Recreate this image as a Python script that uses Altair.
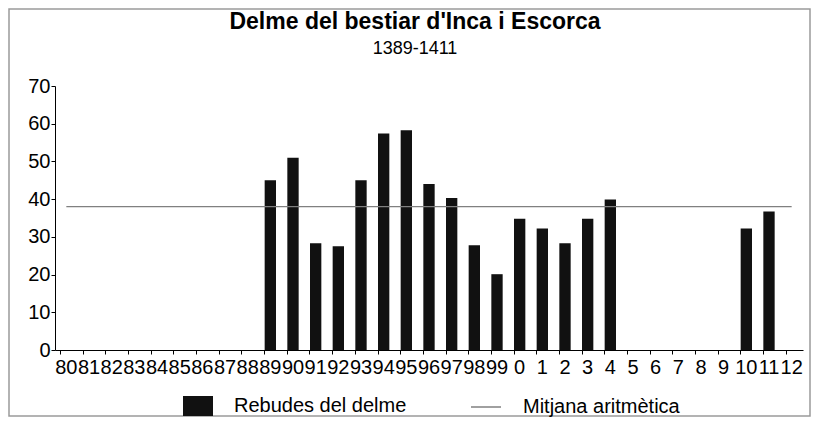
import altair as alt
import pandas as pd

YEARS = [str(y) for y in range(80, 100)] + [str(y) for y in range(0, 13)]
VALUES = ([None] * 9
          + [45, 51, 28.3, 27.5, 45, 57.4, 58.3, 44, 40.3, 27.8, 20.1,
             34.8, 32.2, 28.3, 34.8, 39.9]
          + [None] * 5
          + [32.2, 36.7, None])
MEAN = 38.0
BAR_SERIES = "Rebudes del delme"
MEAN_SERIES = "Mitjana aritmètica"
BAR_COLOR = "#111111"
MEAN_COLOR = "#808080"

FONT = "Liberation Sans"

bars_df = pd.DataFrame({"year": YEARS, "value": VALUES, "serie": BAR_SERIES})
mean_df = pd.DataFrame({"year": YEARS, "value": [MEAN] * len(YEARS), "serie": MEAN_SERIES})
frame_df = pd.DataFrame({"k": [0]})

x_enc = alt.X(
    "year:N", sort=YEARS,
    scale=alt.Scale(paddingInner=0.5, paddingOuter=0.25),
    axis=alt.Axis(title=None, labelAngle=0, bandPosition=0, labelOverlap=False,
                  labelPadding=3, tickSize=4, labelFont=FONT, labelFontSize=20,
                  labelColor="black", domainColor="black", tickColor="black"),
)
y_enc = alt.Y(
    "value:Q",
    scale=alt.Scale(domain=[0, 70], nice=False),
    axis=alt.Axis(title=None, values=[0, 10, 20, 30, 40, 50, 60, 70],
                  labelPadding=1, tickSize=4, grid=False, labelFont=FONT,
                  labelFontSize=20, labelColor="black", domainColor="black",
                  tickColor="black"),
)

legend_common = dict(
    title=None, orient="none", direction="horizontal", padding=0,
    symbolSize=900, labelOffset=21, labelLimit=400,
    labelFont=FONT, labelFontSize=20, labelColor="black", symbolOpacity=1,
)

color_enc = alt.Color(
    "serie:N",
    scale=alt.Scale(domain=[BAR_SERIES], range=[BAR_COLOR]),
    legend=alt.Legend(legendX=128, legendY=305,
                      symbolType="M-1,-0.667H1V0.667H-1Z",
                      symbolStrokeWidth=0, **legend_common),
)
stroke_enc = alt.Stroke(
    "serie:N",
    scale=alt.Scale(domain=[MEAN_SERIES], range=[MEAN_COLOR]),
    legend=alt.Legend(legendX=415, legendY=305,
                      symbolType="M-1,0H1", symbolStrokeWidth=1.5,
                      **legend_common),
)

frame = alt.Chart(frame_df).mark_rect(fill="transparent", stroke="#9a9a9a",
                                      strokeWidth=1.5, clip=False).encode(
    x=alt.value(-46), x2=alt.value(755), y=alt.value(-77), y2=alt.value(330)
)

bars = alt.Chart(bars_df).mark_bar().encode(x=x_enc, y=y_enc, color=color_enc)
line = alt.Chart(mean_df).mark_line(strokeWidth=1.2).encode(
    x=x_enc, y=y_enc, stroke=stroke_enc
)

chart = alt.layer(frame, bars, line).properties(
    width=748, height=264,
    background="white",
    autosize=alt.AutoSizeParams(type="none"),
    padding={"left": 47, "right": 8, "top": 78, "bottom": 67},
    title=alt.Title(
        "Delme del bestiar d'Inca i Escorca", subtitle="1389-1411",
        font=FONT, fontSize=23, fontWeight="bold", color="black",
        subtitleFont=FONT, subtitleFontSize=18, subtitleColor="black",
        anchor="middle", dx=-14, offset=-50, subtitlePadding=6,
    ),
).configure_view(stroke=None)

chart.save("out.html", embed_options={"renderer": "svg", "actions": False})
